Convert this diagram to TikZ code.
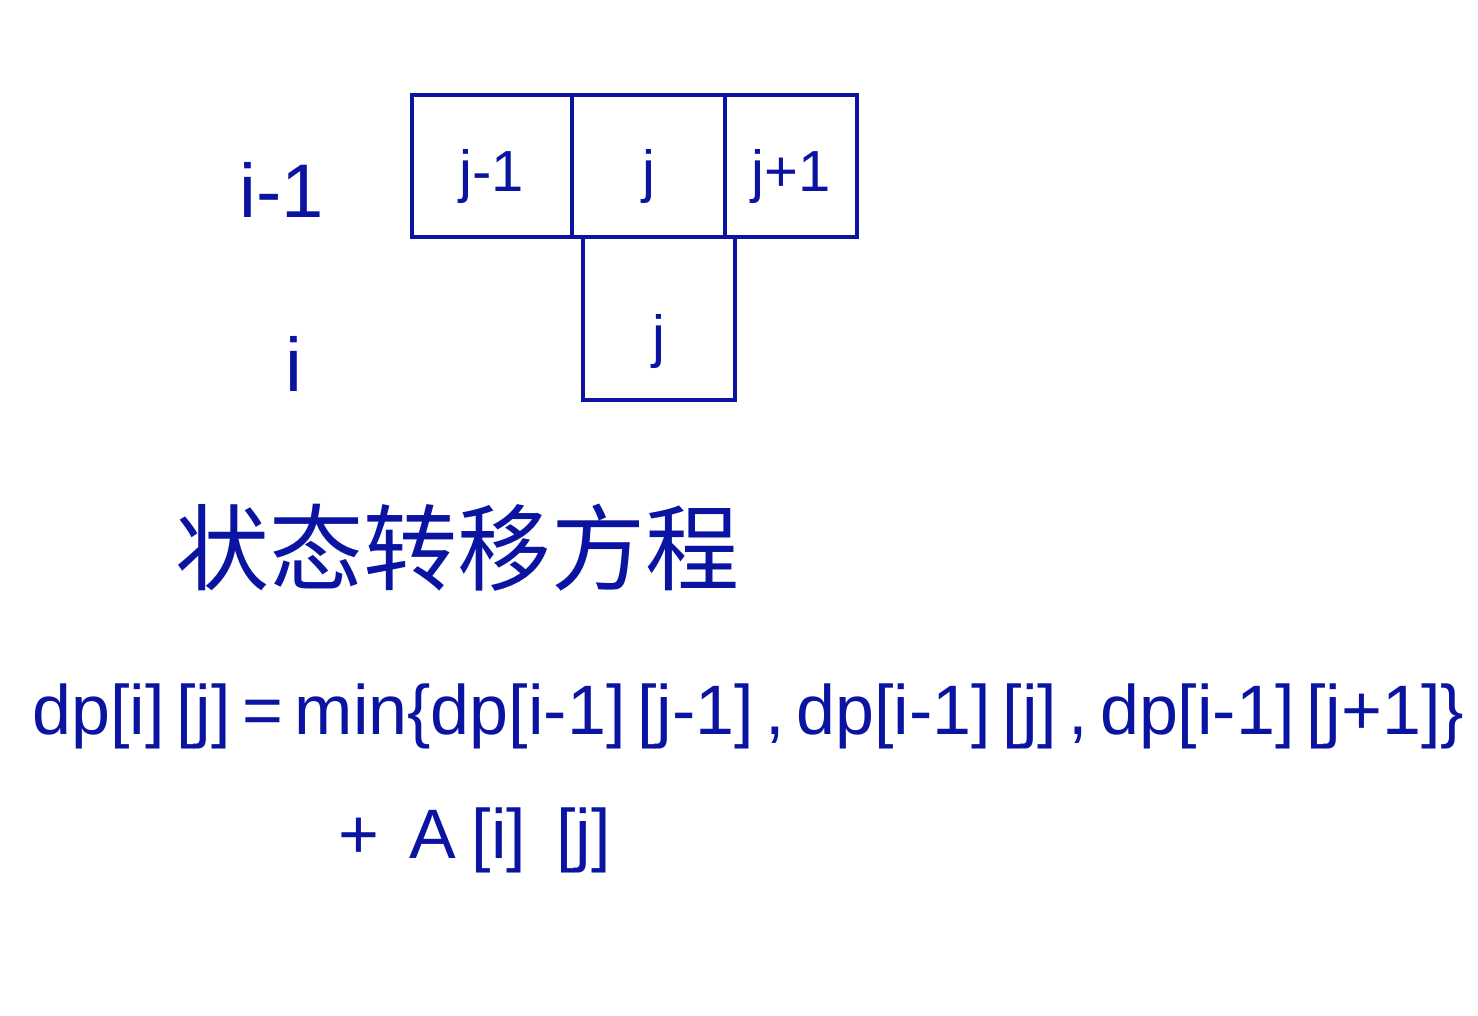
\documentclass[tikz,border=0pt]{standalone}
\usepackage{fontspec}
\setmainfont{Liberation Sans}
\newfontfamily\cjk{Noto Sans CJK SC}
\definecolor{ink}{RGB}{10,20,160}
\newcommand{\lowtxt}[2]{\raisebox{#1}[0pt][0pt]{#2}}
\begin{document}
\begin{tikzpicture}[x=1pt,y=-1pt,
  cell/.style={draw=ink,line width=4pt,inner sep=0pt,text=ink,font=\fontsize{58}{66}\selectfont},
  lbl/.style={text=ink,inner sep=0pt,font=\fontsize{76}{86}\selectfont},
  eq/.style={text=ink,inner sep=0pt,anchor=west,font=\fontsize{70}{80}\selectfont}]
\useasboundingbox (0,0) rectangle (1478,1016);
\node[cell,minimum width=160pt,minimum height=142pt] (c1) at (492,166) {\lowtxt{-26pt}{j-1}};
\node[cell,minimum width=153pt,minimum height=142pt] (c2) at (648.5,166) {\lowtxt{-26pt}{j}};
\node[cell,minimum width=132pt,minimum height=142pt] (c3) at (791,166) {\lowtxt{-26pt}{j+1}};
\node[cell,minimum width=152pt,minimum height=163pt] (c4) at (659,318.5) {\lowtxt{-38pt}{j}};
\node[lbl] (r1) at (282,190) {i-1};
\node[lbl] (r2) at (294,364) {i};
\node[text=ink,inner sep=0pt,anchor=west,font=\cjk\fontsize{94}{100}\selectfont] (title) at (175,548) {状态转移方程};
\node[eq] (f1) at (32,716) {dp[i]\,[j]\,=\,min\{dp[i-1]\,[j-1]\,,\,dp[i-1]\,[j]\,,\,dp[i-1]\,[j+1]\}};
\node[eq] (f2) at (338,840) {+\hspace{30pt}A\hspace{16pt}[i]\hspace{30pt}[j]};
\end{tikzpicture}
\end{document}
